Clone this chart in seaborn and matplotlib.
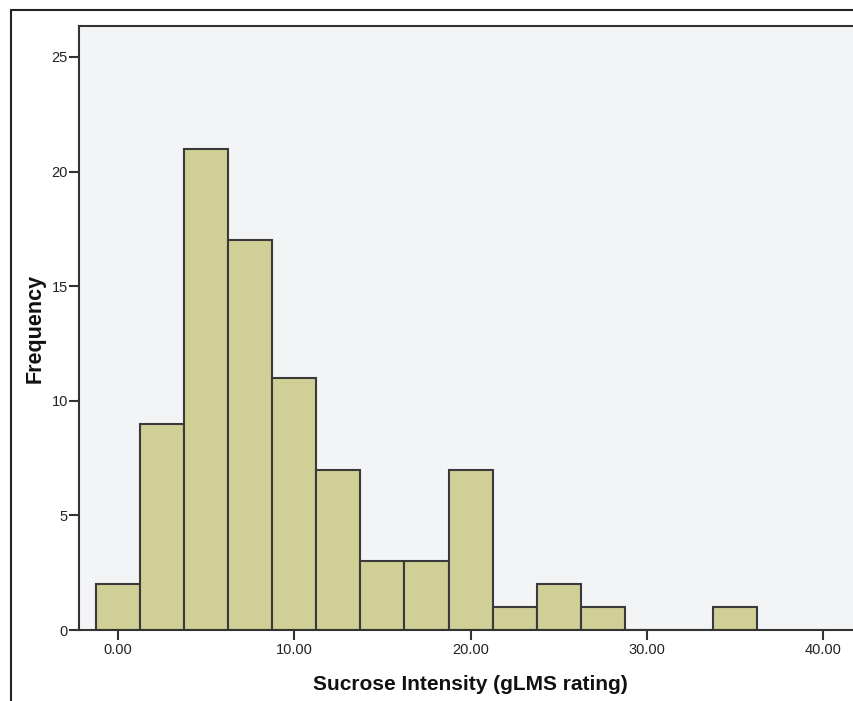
import numpy as np
import pandas as pd
import matplotlib
matplotlib.use("Agg")
import matplotlib.pyplot as plt
import seaborn as sns
from matplotlib.lines import Line2D

bin_centers = [0.0, 2.5, 5.0, 7.5, 10.0, 12.5, 15.0, 17.5, 20.0, 22.5, 25.0, 27.5, 30.0, 32.5, 35.0]
counts = [2, 9, 21, 17, 11, 7, 3, 3, 7, 1, 2, 1, 0, 0, 1]
x_ticks = [0, 10, 20, 30, 40]
x_tick_labels = ["0.00", "10.00", "20.00", "30.00", "40.00"]
y_ticks = [0, 5, 10, 15, 20, 25]

df = pd.DataFrame({"sucrose": bin_centers, "n": counts})

sns.set_style("white")
plt.rcParams["font.family"] = ["Liberation Sans", "DejaVu Sans"]

fig = plt.figure(figsize=(8.54, 7.01), dpi=100)
ax = fig.add_axes([79/854, (701-630)/701, 1 - 79/854 + 0.01, (630-26)/701])
ax.set_facecolor("#f2f4f6")

sns.histplot(data=df, x="sucrose", weights="n", binwidth=2.5, binrange=(-1.25, 36.25), ax=ax,
             color="#d0cf95", edgecolor="#3a3a3a", linewidth=1.5, alpha=1.0)

ax.set_xlim(-2.21, 42.23)
ax.set_ylim(0, 26.35)
ax.set_xticks(x_ticks)
ax.set_xticklabels(x_tick_labels)
ax.set_yticks(y_ticks)
ax.tick_params(axis="both", direction="out", length=7, width=1.5, color="#333333",
               labelsize=10.5, labelcolor="#222222", bottom=True, left=True)
ax.tick_params(axis="x", pad=2)
ax.tick_params(axis="y", pad=1)
for s in ["left", "bottom", "top"]:
    ax.spines[s].set_visible(True)
    ax.spines[s].set_color("#333333")
    ax.spines[s].set_linewidth(1.5)
ax.spines["right"].set_visible(False)

ax.set_xlabel("Sucrose Intensity (gLMS rating)", fontsize=15, fontweight="bold",
              labelpad=13, color="#111111")
ax.set_ylabel("Frequency", fontsize=15.5, fontweight="bold", labelpad=4, color="#111111")

fig.add_artist(Line2D([11/854, 11/854], [0, 1 - 10/701], transform=fig.transFigure,
                      color="#222222", linewidth=1.5))
fig.add_artist(Line2D([11/854, 1], [1 - 10/701, 1 - 10/701], transform=fig.transFigure,
                      color="#222222", linewidth=1.5))

fig.savefig("out.png", dpi=100)
